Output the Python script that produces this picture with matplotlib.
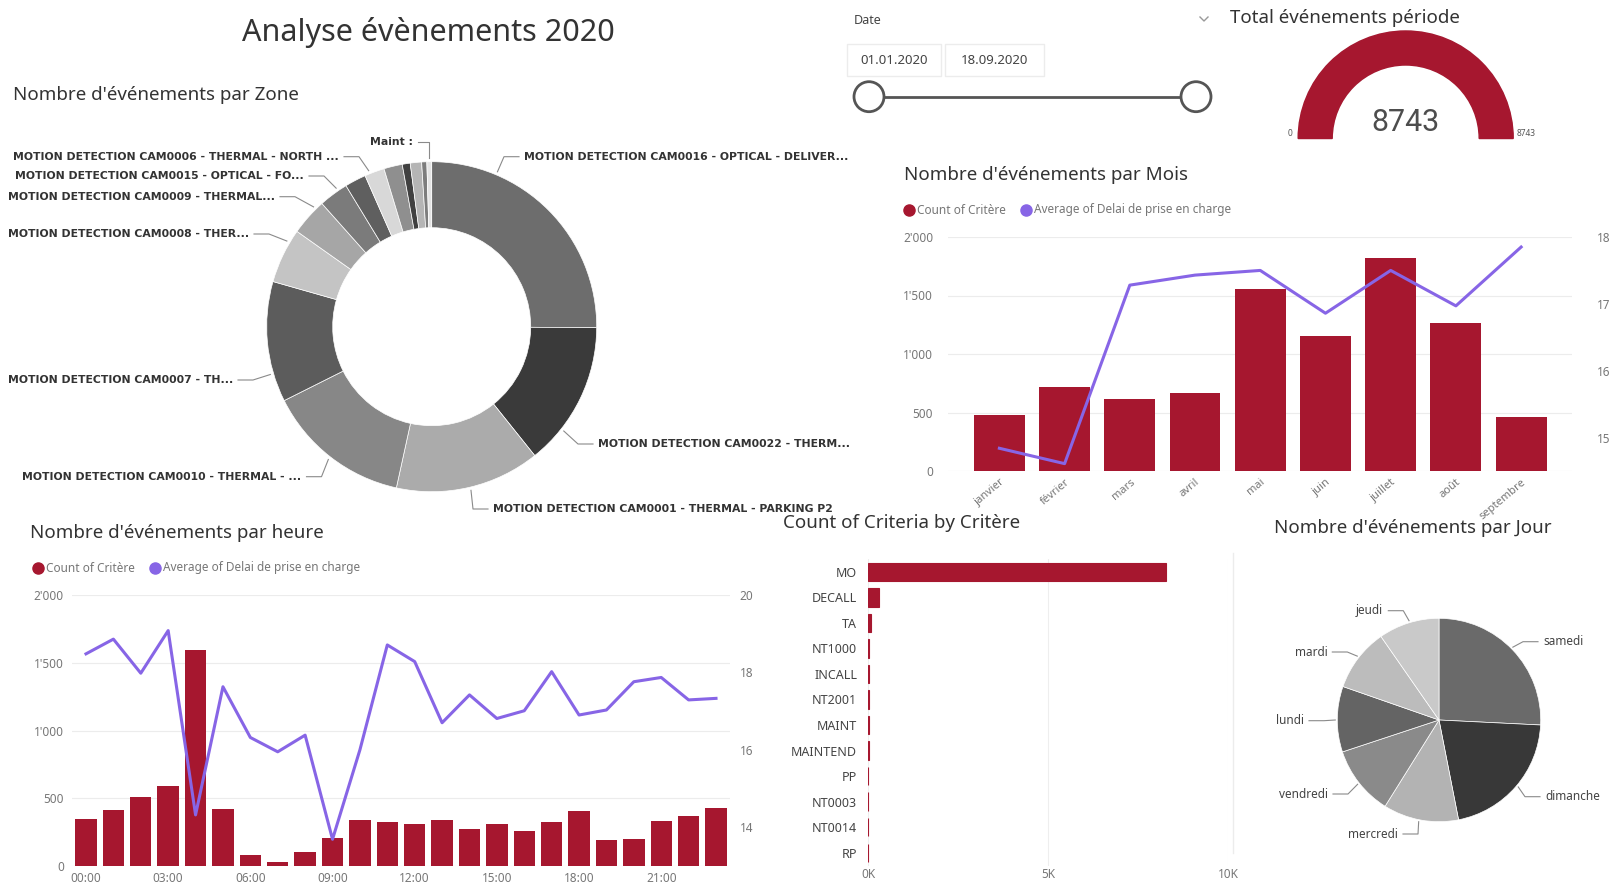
import matplotlib.pyplot as plt
from matplotlib.patches import Wedge, Rectangle, Circle
import numpy as np

W, H = 1618, 892

# ---------------- data ----------------
total_events = 8743
gauge_max = 8743
date_start = "01.01.2020"
date_end = "18.09.2020"

months = ["janvier", "février", "mars", "avril", "mai", "juin", "juillet", "août", "septembre"]
month_counts = [482, 720, 615, 668, 1552, 1158, 1820, 1268, 460]
month_delay = [14.84, 14.61, 17.28, 17.43, 17.50, 16.86, 17.50, 16.97, 17.85]

hours = list(range(24))
hour_ticks = [0, 3, 6, 9, 12, 15, 18, 21]
hour_counts = [345, 415, 511, 588, 1595, 420, 78, 32, 103, 210, 339, 328,
               308, 342, 272, 312, 258, 328, 404, 192, 201, 335, 370, 425]
hour_delay = [18.48, 18.86, 17.98, 19.08, 14.32, 17.63, 16.32, 15.95, 16.38, 13.69, 16.0, 18.71,
              18.28, 16.70, 17.42, 16.81, 17.01, 18.02, 16.90, 17.03, 17.76, 17.87, 17.29, 17.33]

criteria = ["MO", "DECALL", "TA", "NT1000", "INCALL", "NT2001", "MAINT", "MAINTEND",
            "PP", "NT0003", "NT0014", "RP"]
criteria_counts = [8280, 300, 80, 22, 18, 14, 11, 8, 4, 3, 2, 1]

zone_names = ["MOTION DETECTION CAM0016 - OPTICAL - DELIVER...",
              "MOTION DETECTION CAM0022 - THERM...",
              "MOTION DETECTION CAM0001 - THERMAL - PARKING P2",
              "MOTION DETECTION CAM0010 - THERMAL - ...",
              "MOTION DETECTION CAM0007 - TH...",
              "MOTION DETECTION CAM0008 - THER...",
              "MOTION DETECTION CAM0009 - THERMAL...",
              "MOTION DETECTION CAM0015 - OPTICAL - FO...",
              "",
              "MOTION DETECTION CAM0006 - THERMAL - NORTH ...",
              "", "", "", "",
              "Maint :"]
zone_counts = [2194, 1239, 1239, 1239, 1032, 471, 316, 253, 182, 170, 158, 68, 97, 44, 41]

days = ["samedi", "dimanche", "mercredi", "vendredi", "lundi", "mardi", "jeudi"]
day_counts = [2254, 1848, 1047, 964, 911, 874, 845]

# ---------------- style ----------------
RED = '#a6172f'
PURPLE = '#8765e6'
TITLE_C = '#333333'
TICK_C = '#777777'
zone_colors = ['#6d6d6d', '#3a3a3a', '#ababab', '#878787', '#5c5c5c', '#c4c4c4', '#a6a6a6',
               '#7b7b7b', '#5f5f5f', '#d8d8d8', '#8f8f8f', '#404040', '#b5b5b5', '#7d7d7d', '#e4e4e4']
day_colors = ['#6a6a6a', '#383838', '#b3b3b3', '#8a8a8a', '#646464', '#bcbcbc', '#c9c9c9']

plt.rcParams['font.family'] = ['Noto Sans', 'DejaVu Sans']

fig = plt.figure(figsize=(W / 100, H / 100), dpi=100)
fig.patch.set_facecolor('white')


def px_axes(x0, y0, x1, y1):
    return fig.add_axes([x0 / W, 1 - y1 / H, (x1 - x0) / W, (y1 - y0) / H])


bg = px_axes(0, 0, W, H)
bg.set_xlim(0, W)
bg.set_ylim(H, 0)
bg.axis('off')

# titles
bg.text(428, 33, "Analyse évènements 2020", fontsize=22, color=TITLE_C, ha='center', va='center')
bg.text(13, 95, "Nombre d'événements par Zone", fontsize=13.5, color=TITLE_C, va='center')
bg.text(904, 175, "Nombre d'événements par Mois", fontsize=13.5, color=TITLE_C, va='center')
bg.text(30, 533, "Nombre d'événements par heure", fontsize=13.5, color=TITLE_C, va='center')
bg.text(783, 523, "Count of Criteria by Critère", fontsize=13.5, color=TITLE_C, va='center')
bg.text(1413, 528, "Nombre d'événements par Jour", fontsize=13.5, color=TITLE_C, ha='center', va='center')
bg.text(1230, 18, "Total événements période", fontsize=13.5, color=TITLE_C, va='center')


def legend(x, y):
    bg.plot([x], [y], 'o', color=RED, ms=8)
    bg.text(x + 8, y, "Count of Critère", fontsize=8.5, color=TICK_C, va='center')
    x2 = x + 117
    bg.plot([x2], [y], 'o', color=PURPLE, ms=8)
    bg.text(x2 + 8, y, "Average of Delai de prise en charge", fontsize=8.5, color=TICK_C, va='center')


legend(909, 210)
legend(38, 568)

# date slicer
bg.text(854, 20, "Date", fontsize=9, color='#444444', va='center')
bg.plot([1200, 1204, 1208], [17, 21, 17], color='#999999', lw=1)
bg.add_patch(Rectangle((847, 44), 94, 32, fill=False, ec='#ececec', lw=1))
bg.add_patch(Rectangle((945, 44), 99, 32, fill=False, ec='#ececec', lw=1))
bg.text(894, 60, date_start, fontsize=9.5, color='#444444', ha='center', va='center')
bg.text(994.5, 60, date_end, fontsize=9.5, color='#444444', ha='center', va='center')
bg.plot([869, 1196], [96.7, 96.7], color='#555555', lw=2, zorder=2)
for cx in (869, 1196):
    bg.add_patch(Circle((cx, 96.7), 15, fc='white', ec='#555555', lw=2, zorder=3))

# faint separator left of day pie
bg.plot([1233, 1233], [553, 853], color='#ececec', lw=1)

# ---------------- gauge ----------------
g = px_axes(1405.7 - 140, 138.5 - 115, 1405.7 + 140, 138.5 + 20)
g.set_xlim(-140, 140)
g.set_ylim(-20, 115)
g.axis('off')
g.add_patch(Wedge((0, 0), 107.5, 0, 180, width=34, color='#e6e6e6'))
g.add_patch(Wedge((0, 0), 107.5, 180 - 180 * total_events / gauge_max, 180, width=34, color=RED))
g.text(0, 16, str(total_events), fontsize=22, color='#4d4d4d', ha='center', va='center',
       family=['Roboto', 'DejaVu Sans'])
g.text(-113, 0, "0", fontsize=6, color='#555555', ha='right', va='bottom')
g.text(111, 0, str(gauge_max), fontsize=6, color='#555555', ha='left', va='bottom')


# ---------------- combo charts ----------------
def combo(ax, counts, delay, ylim2, ticks2, pad_l, pad_r):
    x = np.arange(len(counts))
    ax.bar(x, counts, width=0.78, color=RED, zorder=2)
    ax.set_ylim(0, 2000)
    ax.set_yticks([0, 500, 1000, 1500, 2000])
    ax.set_yticklabels(["0", "500", "1'000", "1'500", "2'000"])
    ax.grid(axis='y', color='#ececec', lw=0.8, zorder=0)
    ax.set_axisbelow(True)
    for s in ax.spines.values():
        s.set_visible(False)
    ax.tick_params(axis='y', length=0, labelsize=8.5, labelcolor=TICK_C, pad=pad_l)
    ax.tick_params(axis='x', length=0, labelsize=8.5, labelcolor=TICK_C, pad=4)
    ax2 = ax.twinx()
    ax2.plot(x, delay, color=PURPLE, lw=2.2, zorder=3)
    ax2.set_ylim(*ylim2)
    ax2.set_yticks(ticks2)
    for s in ax2.spines.values():
        s.set_visible(False)
    ax2.tick_params(axis='y', length=0, labelsize=8.5, labelcolor=TICK_C, pad=pad_r)
    return ax2


am = px_axes(948.5, 237, 1572, 471)
combo(am, month_counts, month_delay, (14.5, 18), [15, 16, 17, 18], 11, 18)
am.set_xlim(-0.78, len(months) - 0.22)
am.set_xticks(range(len(months)))
am.set_xticklabels(months, rotation=40, ha='right', rotation_mode='anchor', fontsize=8)

ah = px_axes(72.3, 595, 729.7, 866)
combo(ah, hour_counts, hour_delay, (13, 20), [14, 16, 18, 20], 6, 7)
ah.set_xlim(-0.5, len(hours) - 0.5)
ah.set_xticks(hour_ticks)
ah.set_xticklabels(["%02d:00" % h for h in hour_ticks])

# ---------------- criteria bars ----------------
ac = px_axes(868.3, 559, 1228.3, 865.5)
ac.barh(range(len(criteria)), criteria_counts, height=0.72, color=RED, ec=RED, lw=0.8, zorder=2)
ac.set_ylim(len(criteria) - 0.5, -0.5)
ac.set_xlim(0, 10000)
ac.set_yticks(range(len(criteria)))
ac.set_yticklabels(criteria)
ac.set_xticks([0, 5000, 10000])
ac.set_xticklabels(["0K", "5K", "10K"])
ac.grid(axis='x', color='#eeeeee', lw=0.8, zorder=0)
ac.set_axisbelow(True)
for s in ac.spines.values():
    s.set_visible(False)
ac.tick_params(axis='y', length=0, labelsize=9, labelcolor='#444444', pad=8)
ac.tick_params(axis='x', length=0, labelsize=8.5, labelcolor=TICK_C, pad=2)


# ---------------- pies ----------------
def leader(ax, cx, cy, R, tx, ty, side, angle, text, fs, color, weight='normal', family=None):
    # tx, ty in pixels; side +1 -> text right-aligned (line to its right)
    x = (tx - cx) / R
    y = (cy - ty) / R
    a = np.deg2rad(angle)
    px, py = 1.02 * np.cos(a), 1.02 * np.sin(a)
    gap = 5 / R
    arm = 15 / R
    ex = x + side * (gap + arm)
    ex = min(ex, px) if side > 0 else max(ex, px)
    ax.plot([px, ex, x + side * gap], [py, y, y], color='#8a8a8a', lw=0.8, clip_on=False)
    kw = dict(fontsize=fs, color=color, va='center', ha='right' if side > 0 else 'left',
              weight=weight, clip_on=False)
    if family:
        kw['family'] = family
    ax.text(x, y, text, **kw)


zc, zcy, zR = 431.7, 326.7, 165
az = px_axes(zc - zR, zcy - zR, zc + zR, zcy + zR)
az.pie(zone_counts, radius=1, startangle=90, counterclock=False, colors=zone_colors,
       wedgeprops=dict(width=0.4, edgecolor='white', linewidth=0.5))
az.set_xlim(-1, 1)
az.set_ylim(-1, 1)

zone_layout = [(0, 524, 156.7, -1, 67), (1, 598, 444, -1, -38.3), (2, 493, 509, -1, -76.5),
               (3, 301.5, 476.7, 1, -127.9), (4, 233, 380, 1, -163.5), (5, 249, 234, 1, 149.4),
               (6, 275, 196.7, 1, 134.6), (7, 304, 176, 1, 124.6), (9, 339, 156.7, 1, 112),
               (14, 413, 141.7, 1, 90.8)]
for i, tx, ty, side, ang in zone_layout:
    leader(az, zc, zcy, zR, tx, ty, side, ang, zone_names[i], 7.8, '#333333',
           weight='bold', family=['DejaVu Sans'])

dc, dcy, dR = 1439, 720, 101.7
ad = px_axes(dc - dR, dcy - dR, dc + dR, dcy + dR)
ad.pie(day_counts, radius=1, startangle=90, counterclock=False, colors=day_colors,
       wedgeprops=dict(edgecolor='white', linewidth=0.5))
ad.set_xlim(-1, 1)
ad.set_ylim(-1, 1)

day_layout = [(0, 1543, 641.7, -1, 44.6), (1, 1545, 796.7, -1, -40.2), (2, 1398, 834, 1, -101.3),
              (3, 1328, 794, 1, -141.7), (4, 1304, 720.7, 1, 180), (5, 1327.3, 652, 1, 142),
              (6, 1383.3, 610.7, 1, 106.8)]
for i, tx, ty, side, ang in day_layout:
    leader(ad, dc, dcy, dR, tx, ty, side, ang, days[i], 8.5, '#444444')

fig.savefig('out.png', dpi=100, facecolor='white')
